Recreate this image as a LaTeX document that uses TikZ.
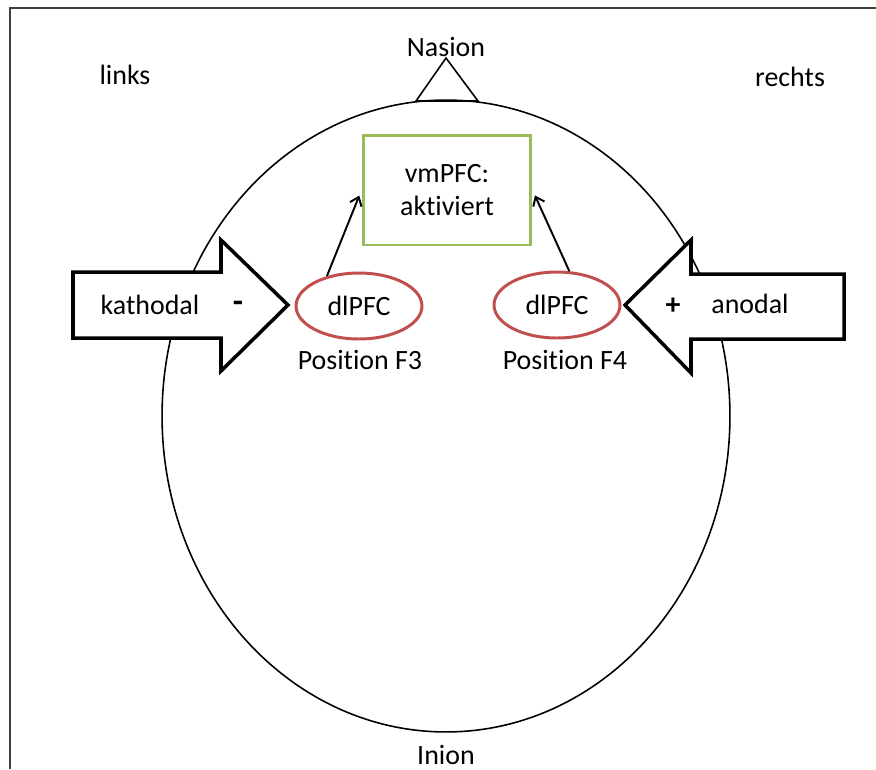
\documentclass[tikz,border=0pt]{standalone}
\usepackage{fontspec}
\setmainfont[Ligatures={NoCommon,NoRare,NoContextual}]{Carlito}
\usetikzlibrary{shapes.geometric, arrows.meta}
\definecolor{pfcred}{HTML}{C0504D}
\definecolor{pfcgreen}{HTML}{9BBB59}
\definecolor{framegray}{HTML}{404040}
\begin{document}
\begin{tikzpicture}[
    x=0.02cm, y=-0.02cm,
    >={Straight Barb[length=4.5pt, width=7pt]},
    every node/.style={font=\fontsize{15.9}{18.5}\selectfont, inner sep=0pt},
    head/.style={
        ellipse,
        draw=black,
        line width=0.9pt,
        minimum width=11.36cm,
        minimum height=12.64cm
    },
    region/.style={
        ellipse,
        draw=pfcred,
        line width=1.7pt,
        minimum width=2.52cm,
        minimum height=1.32cm
    },
    target/.style={
        rectangle,
        draw=pfcgreen,
        line width=1.7pt,
        minimum width=3.36cm,
        minimum height=2.2cm,
        align=center
    },
    electrode/.style={draw=black, fill=white, line width=2pt, line join=miter},
    link/.style={->, line width=1.1pt, shorten >=3.4pt}
]
\useasboundingbox (0,0) rectangle (876,769);

\draw[framegray, line width=0.8pt] (10,769) -- (10,8) -- (876,8);

\node[head] (head) at (446,416) {};
\draw[line width=0.9pt, line join=miter] (416,101) -- (446,58) -- (478,101) -- cycle;

\node (nasion) at (446,47) {Nasion};
\node (inion) at (446,755) {Inion};
\node (left) at (125,75) {links};
\node (right) at (790,77) {rechts};

\node[target] (vm) at (447,190) {vmPFC:\\aktiviert};

\node[region] (f3) at (359,306) {dlPFC};
\node[region] (f4) at (557,305) {dlPFC};
\node (f3label) at (360,360) {Position F3};
\node (f4label) at (565,360) {Position F4};

\draw[link] (f3.137) -- (vm.west);
\draw[link] (f4.70) -- (vm.east);

\draw[electrode] (73,272) -- (221,272) -- (221,240) -- (288,305)
    -- (221,371) -- (221,338) -- (73,338) -- cycle;
\draw[electrode] (844,274) -- (691,274) -- (691,240) -- (625,305)
    -- (691,373) -- (691,339) -- (844,339) -- cycle;

\node (kath) at (150,305) {kathodal};
\node[font=\fontsize{19}{20}\selectfont\bfseries] (minus) at (238,307) {-};
\node (anod) at (750,304) {anodal};
\node[font=\fontsize{17}{20}\selectfont\bfseries] (plus) at (673,306) {+};

\end{tikzpicture}
\end{document}
